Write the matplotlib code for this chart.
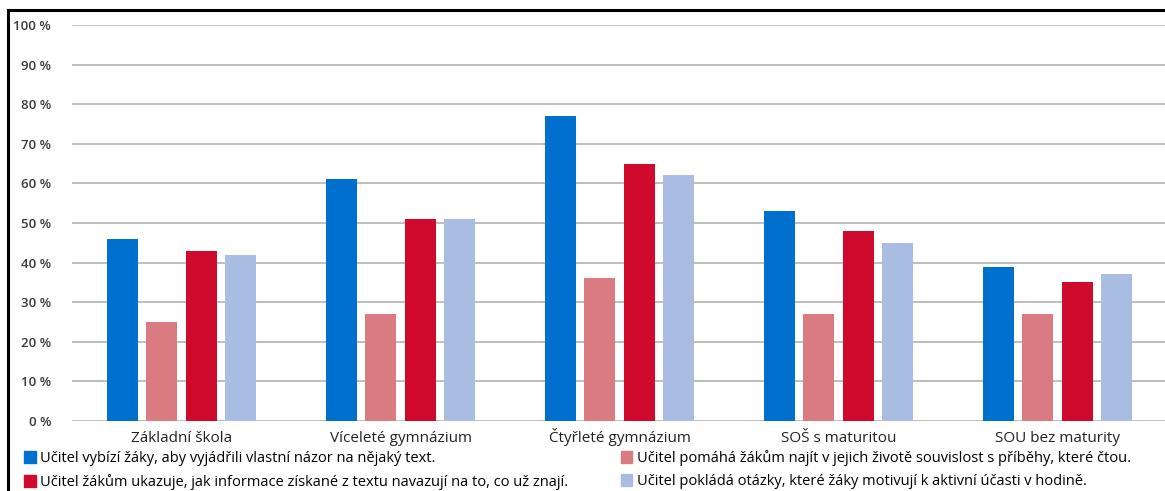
import matplotlib.pyplot as plt
import numpy as np
from matplotlib.lines import Line2D
from matplotlib.patches import Patch

plt.rcParams["font.family"] = ["Open Sans", "DejaVu Sans"]

categories = ["Základní škola", "Víceleté gymnázium", "Čtyřleté gymnázium",
              "SOŠ s maturitou", "SOU bez maturity"]
vlastni_nazor = [46, 61, 77, 53, 39]
souvislost = [25, 27, 36, 27, 27]
navazuji = [43, 51, 65, 48, 35]
motivuji = [42, 51, 62, 45, 37]

labels = [
    "Učitel vybízí žáky, aby vyjádřili vlastní názor na nějaký text.",
    "Učitel pomáhá žákům najít v jejich životě souvislost s příběhy, které čtou.",
    "Učitel žákům ukazuje, jak informace získané z textu navazují na to, co už znají.",
    "Učitel pokládá otázky, které žáky motivují k aktivní účasti v hodině.",
]
colors = ["#0070ce", "#d97b80", "#d00a2c", "#a9bde3"]
series = [vlastni_nazor, souvislost, navazuji, motivuji]

W, H = 1165, 491
fig = plt.figure(figsize=(W / 100, H / 100), dpi=100)
ax = fig.add_axes([72 / W, 70 / H, 1095 / W, 396 / H])

x = np.arange(len(categories))
offsets = [-0.27, -0.09, 0.09, 0.27]
for vals, off, c in zip(series, offsets, colors):
    ax.bar(x + off, np.array(vals) / 100, width=0.142, color=c, zorder=3)

ax.set_xlim(-0.5, 4.5)
ax.set_ylim(0, 1.0)
ticks = np.arange(0, 1.01, 0.1)
ax.set_yticks(ticks)
ax.set_yticklabels([f"{int(round(v * 100))} %" for v in ticks],
                   fontsize=9.5, color="#3a3a3a", fontweight="semibold")
ax.yaxis.grid(True, color="#b4b4b4", lw=1.2, zorder=0)
ax.tick_params(axis="y", length=0, pad=15)
ax.set_xticks(x)
ax.set_xticklabels(categories, fontsize=11, color="#222222")
for lbl in ax.get_xticklabels():
    lbl.set_va("baseline")
ax.tick_params(axis="x", length=0, pad=15)
for s in ax.spines.values():
    s.set_visible(False)

handles = [Patch(color=colors[i]) for i in (0, 2, 1, 3)]
texts = [labels[i] for i in (0, 2, 1, 3)]
fig.legend(handles, texts, ncol=2, loc="upper left",
           bbox_to_anchor=(24 / W, 1 - 450 / H), frameon=False,
           fontsize=10.5, handlelength=0.8, handleheight=0.8, handletextpad=0.3,
           labelspacing=0.55, columnspacing=3.6, borderaxespad=0, borderpad=0)

# frame of the original figure box
fig.add_artist(Line2D([7.5 / W, 7.5 / W], [0, 1 - 9.5 / H], color="black",
                      lw=2.2, transform=fig.transFigure))
fig.add_artist(Line2D([7.5 / W, 1], [1 - 9.5 / H, 1 - 9.5 / H], color="black",
                      lw=2.2, transform=fig.transFigure))

fig.savefig("out.png", dpi=100)
